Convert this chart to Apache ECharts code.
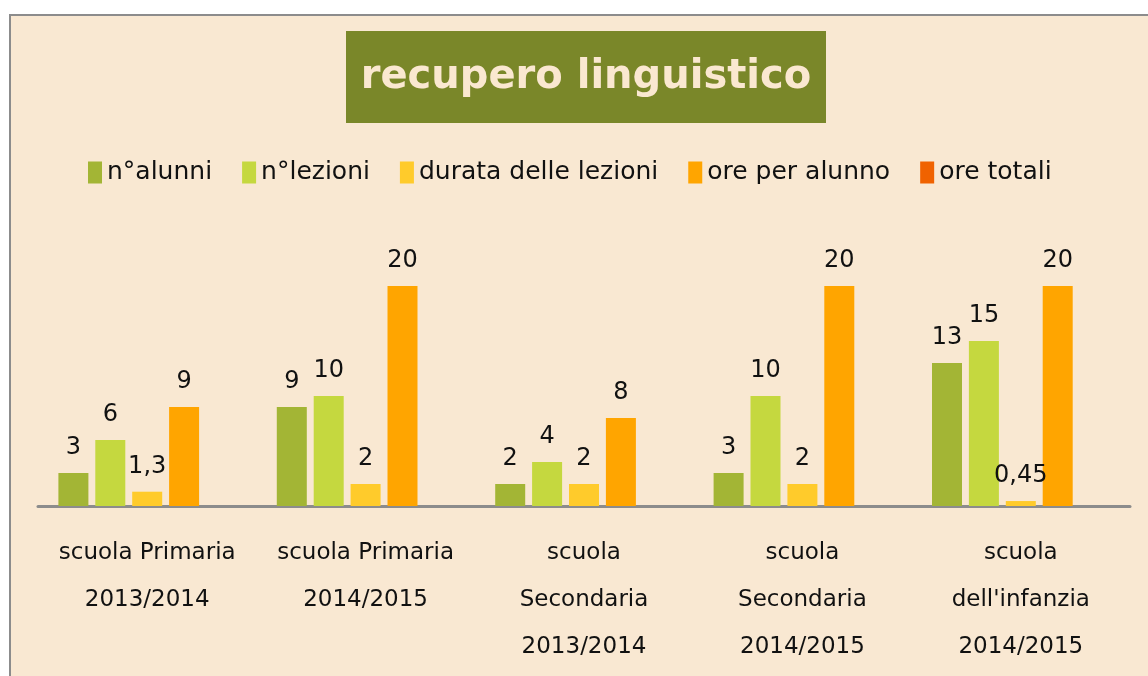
<!DOCTYPE html>
<html>
<head>
<meta charset="utf-8">
<script src="https://cdn.jsdelivr.net/npm/echarts@6/dist/echarts.min.js"></script>
<style>
	html, body { margin: 0; padding: 0; background: #ffffff; }
	#chartBox { width: 1148px; height: 676px; }
</style>
</head>
<body>
<div id="chartBox"></div>
<script>
// categorie (asse x)
const categories = [
	'scuola Primaria\n2013/2014',
	'scuola Primaria\n2014/2015',
	'scuola\nSecondaria\n2013/2014',
	'scuola\nSecondaria\n2014/2015',
	'scuola\ndell\'infanzia\n2014/2015'
];

// serie
const seriesNames = ['n°alunni', 'n°lezioni', 'durata delle lezioni', 'ore per alunno', 'ore totali'];
const alunni  = [3, 9, 2, 3, 13];
const lezioni = [6, 10, 4, 10, 15];
const durata  = [1.3, 2, 2, 2, 0.45];
const orePerAlunno = [9, 20, 8, 20, 20];
const oreTotali = [null, null, null, null, null];

const colors = ['#a3b535', '#c5d83f', '#ffcb2b', '#ffa500', '#f06200'];
const bg = '#f9e8d2';
const handFont = 'DejaVu Sans';

let myChart = echarts.init(document.getElementById('chartBox'));

const allData = [alunni, lezioni, durata, orePerAlunno, oreTotali];

myChart.setOption({
	backgroundColor: '#ffffff',
	color: colors,
	animation: false,
	graphic: [
		{
			type: 'rect',
			z: -10,
			shape: { x: 10, y: 15, width: 1160, height: 700 },
			style: { fill: bg, stroke: '#8c8c8c', lineWidth: 2 }
		},
		{
			type: 'rect',
			shape: { x: 346, y: 31, width: 480, height: 92 },
			style: { fill: '#7a8729' }
		},
		{
			type: 'text',
			x: 586,
			y: 78,
			style: {
				text: 'recupero linguistico',
				fill: '#fae8d0',
				font: 'bold 40px "DejaVu Sans"',
				align: 'center',
				verticalAlign: 'middle'
			}
		}
	],
	legend: {
		top: 155,
		left: 83,
		icon: 'rect',
		itemWidth: 14,
		itemHeight: 22,
		itemGap: 30,
		textStyle: { fontFamily: handFont, fontSize: 25, color: '#111' },
		data: seriesNames
	},
	grid: {
		left: 38,
		right: 18,
		top: 286,
		bottom: 170
	},
	xAxis: {
		type: 'category',
		data: categories,
		axisLine: { lineStyle: { color: '#8c8c8c', width: 3 } },
		axisTick: { show: false },
		axisLabel: {
			interval: 0,
			margin: 24,
			fontFamily: handFont,
			fontSize: 23,
			lineHeight: 47,
			color: '#111'
		}
	},
	yAxis: {
		type: 'value',
		min: 0,
		max: 20,
		show: false,
		splitLine: { show: false }
	},
	series: seriesNames.map((name, i) => ({
		name: name,
		type: 'bar',
		data: allData[i],
		barWidth: 30,
		barGap: '23%',
		label: {
			show: true,
			position: 'top',
			distance: 13,
			fontFamily: 'DejaVu Sans',
			fontSize: 24,
			color: '#111',
			formatter: p => String(p.value).replace('.', ',')
		}
	}))
});
</script>
</body>
</html>
